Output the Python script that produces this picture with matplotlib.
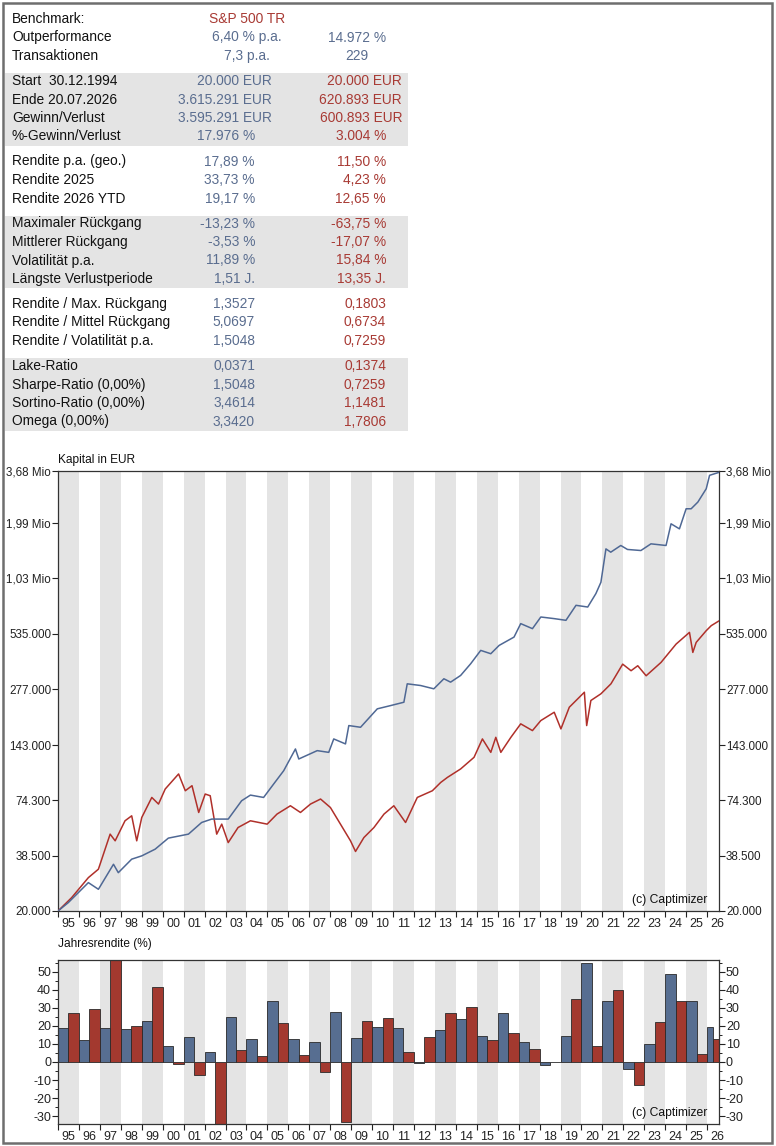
import matplotlib
matplotlib.use("Agg")
import matplotlib.pyplot as plt
from matplotlib.patches import Rectangle
from matplotlib.ticker import FixedLocator, NullLocator, MultipleLocator
import numpy as np

# ---------------- data ----------------
table_labels = ["Benchmark:", "Outperformance", "Transaktionen",
                "Start  30.12.1994", "Ende 20.07.2026", "Gewinn/Verlust", "%-Gewinn/Verlust",
                "Rendite p.a. (geo.)", "Rendite 2025", "Rendite 2026 YTD",
                "Maximaler Rückgang", "Mittlerer Rückgang", "Volatilität p.a.", "Längste Verlustperiode",
                "Rendite / Max. Rückgang", "Rendite / Mittel Rückgang", "Rendite / Volatilität p.a.",
                "Lake-Ratio", "Sharpe-Ratio (0,00%)", "Sortino-Ratio (0,00%)", "Omega (0,00%)"]
strategy_vals = ["S&P 500 TR", "6,40 % p.a.", "7,3 p.a.",
                 "20.000 EUR", "3.615.291 EUR", "3.595.291 EUR", "17.976 %",
                 "17,89 %", "33,73 %", "19,17 %",
                 "-13,23 %", "-3,53 %", "11,89 %", "1,51 J.",
                 "1,3527", "5,0697", "1,5048",
                 "0,0371", "1,5048", "3,4614", "3,3420"]
benchmark_vals = ["", "14.972 %", "229",
                  "20.000 EUR", "620.893 EUR", "600.893 EUR", "3.004 %",
                  "11,50 %", "4,23 %", "12,65 %",
                  "-63,75 %", "-17,07 %", "15,84 %", "13,35 J.",
                  "0,1803", "0,6734", "0,7259",
                  "0,1374", "0,7259", "1,1481", "1,7806"]
group_sizes = [3, 4, 3, 4, 3, 4]

strat_t = [1995.00, 1995.49, 1995.97, 1996.45, 1996.93, 1997.65, 1997.88, 1998.52, 1999.00,
           1999.64, 2000.27, 2001.23, 2001.86, 2002.34, 2003.13, 2003.77, 2004.19, 2004.82,
           2005.30, 2005.78, 2006.34, 2006.50, 2007.38, 2007.93, 2008.17, 2008.73, 2008.89,
           2009.45, 2010.25, 2010.89, 2011.52, 2011.68, 2012.32, 2012.95, 2013.43, 2013.75,
           2014.23, 2014.71, 2015.19, 2015.67, 2016.07, 2016.78, 2017.10, 2017.66, 2018.06,
           2018.70, 2019.26, 2019.74, 2020.30, 2020.69, 2020.93, 2021.17, 2021.40, 2021.88,
           2022.20, 2022.84, 2023.32, 2024.04, 2024.28, 2024.68, 2025.00, 2025.24, 2025.56,
           2025.96, 2026.12, 2026.55]
strat_v = [20000, 22080, 24860, 28000, 25870, 34800, 31500, 36970, 38440,
           41620, 47440, 49740, 57100, 59450, 59450, 73880, 79000, 76830,
           90100, 105500, 136500, 121200, 133800, 131100, 153700, 144900, 180100,
           176500, 219600, 228300, 237500, 295400, 289500, 278400, 313600, 301300,
           326200, 374800, 439000, 422000, 465800, 514000, 602900, 568000, 652200,
           639700, 627000, 749000, 734000, 860600, 984000, 1462000, 1406000, 1522000,
           1452000, 1434000, 1552000, 1522000, 1968000, 1854000, 2352000, 2352000, 2546000,
           2982000, 3497000, 3615291]

bench_t = [1995.00, 1995.65, 1996.45, 1996.93, 1997.49, 1997.73, 1998.20, 1998.52, 1998.76,
           1999.00, 1999.48, 1999.80, 2000.12, 2000.76, 2001.08, 2001.40, 2001.72, 2002.03,
           2002.27, 2002.58, 2002.82, 2003.13, 2003.60, 2004.19, 2004.99, 2005.46, 2006.10,
           2006.58, 2007.06, 2007.54, 2008.01, 2008.49, 2008.97, 2009.21, 2009.61, 2010.09,
           2010.57, 2011.04, 2011.60, 2012.16, 2012.88, 2013.28, 2013.60, 2014.23, 2014.87,
           2015.27, 2015.67, 2015.91, 2016.15, 2016.63, 2017.10, 2017.66, 2018.06, 2018.70,
           2019.02, 2019.42, 2020.14, 2020.25, 2020.45, 2020.93, 2021.41, 2021.97, 2022.37,
           2022.69, 2023.09, 2023.80, 2024.52, 2025.16, 2025.32, 2025.48, 2025.96, 2026.20,
           2026.55]
bench_v = [20000, 23420, 29700, 32830, 49740, 45950, 58260, 61800, 45950,
           60580, 76830, 71040, 84900, 101500, 83180, 88300, 64300, 80000,
           78400, 49740, 56000, 45000, 53800, 58260, 56000, 63080, 69620,
           64300, 71040, 75400, 68200, 56000, 45950, 40500, 47770, 53800,
           63080, 69620, 57100, 76830, 83180, 91800, 97450, 107700, 123600,
           153700, 131100, 156700, 131100, 156700, 183800, 169700, 191100, 210900,
           173100, 223800, 267400, 180100, 242400, 262400, 295400, 373000, 345000,
           366000, 325000, 380600, 473000, 543500, 428600, 482600, 554600, 588600,
           620893]

years = list(range(1995, 2027))
strat_ret = [18.6, 12.2, 19.0, 18.1, 22.9, 8.9, 13.7, 5.5, 25.1, 12.9, 33.6, 12.9, 11.3, 27.7,
             13.3, 19.6, 19.0, -0.7, 17.5, 23.8, 14.4, 27.3, 10.9, -1.5, 14.2, 54.8, 33.9,
             -3.9, 9.8, 48.5, 33.73, 19.17]
bench_ret = [26.9, 29.3, 57.0, 19.7, 41.7, -1.1, -7.2, -36.0, 6.8, 3.3, 21.4, 3.9, -5.5, -33.2,
             22.5, 24.5, 5.7, 14.0, 27.1, 30.6, 12.4, 16.1, 7.4, 0.2, 34.7, 8.9, 40.0,
             -12.9, 22.3, 33.6, 4.23, 12.65]

cap_ticks = [20000, 38500, 74300, 143000, 277000, 535000, 1030000, 1990000, 3680000]
cap_labels = ["20.000", "38.500", "74.300", "143.000", "277.000", "535.000",
              "1,03 Mio", "1,99 Mio", "3,68 Mio"]
ret_ticks = [-30, -20, -10, 0, 10, 20, 30, 40, 50]

# ---------------- style ----------------
W, H = 776, 1146
plt.rcParams['font.family'] = ['Liberation Sans', 'DejaVu Sans']
plt.rcParams['axes.unicode_minus'] = False
BLUE_T = '#5a6d8f'
RED_T = '#a83a34'
BLUE_L = '#4f6894'
RED_L = '#b0302a'
BLUE_B = '#576e91'
RED_B = '#a3392f'
BAND = '#e4e4e4'
X0, X1 = 1995.0, 2026.57

fig = plt.figure(figsize=(W / 100, H / 100), dpi=100)


def fx(x):
    return x / W


def fy(y):
    return 1 - y / H


# outer frame
fig.patches.append(Rectangle((fx(3), fy(1143)), fx(769), (1140) / H, transform=fig.transFigure,
                             fill=False, edgecolor='#6e6e6e', lw=1.8))

# ---------------- table ----------------
row_y = []
y = 19.0
for g, n in enumerate(group_sizes):
    for k in range(n):
        row_y.append(y)
        y += 18.5
    y += 6.5
idx = 0
for g, n in enumerate(group_sizes):
    if g % 2 == 1:
        top = row_y[idx] - 8
        bot = row_y[idx + n - 1] + 9
        fig.patches.append(Rectangle((fx(5), fy(bot)), fx(403), (bot - top) / H,
                                     transform=fig.transFigure, facecolor=BAND, edgecolor='none', zorder=0))
    idx += n

fs_tab = 9.9
for i, lab in enumerate(table_labels):
    yy = fy(row_y[i])
    fig.text(fx(12), yy, lab, fontsize=fs_tab, va='center', ha='left', color='#111111')
    sv, bv = strategy_vals[i], benchmark_vals[i]
    if i < 3:
        c2 = RED_T if i == 0 else BLUE_T
        fig.text(fx(247), yy, sv, fontsize=fs_tab, va='center', ha='center', color=c2)
        if bv:
            fig.text(fx(357), yy, bv, fontsize=fs_tab, va='center', ha='center', color=BLUE_T)
    else:
        r2 = 272 if sv.endswith('EUR') else 255
        r3 = 402 if bv.endswith('EUR') else 386
        fig.text(fx(r2), yy, sv, fontsize=fs_tab, va='center', ha='right', color=BLUE_T)
        fig.text(fx(r3), yy, bv, fontsize=fs_tab, va='center', ha='right', color=RED_T)

# ---------------- main chart ----------------
ax = fig.add_axes([fx(58), fy(911), fx(719) - fx(58), (911 - 471) / H])
for i, yr in enumerate(years):
    if i % 2 == 0:
        ax.axvspan(yr, yr + 1, color=BAND, lw=0, zorder=0)
ax.plot(bench_t, bench_v, color=RED_L, lw=1.1, zorder=3)
ax.plot(strat_t, strat_v, color=BLUE_L, lw=1.1, zorder=3)
ax.set_yscale('log')
ax.set_ylim(20000, 3680000)
ax.set_xlim(X0, X1)
ax.yaxis.set_major_locator(FixedLocator(cap_ticks))
ax.yaxis.set_minor_locator(NullLocator())
ax.set_yticklabels(cap_labels)
ax.tick_params(axis='y', which='major', direction='out', length=4, width=0.8, labelsize=8.4,
               left=True, right=True, labelleft=True, labelright=True, pad=1, colors='#222222')


def year_axis(a, label_pad):
    a.xaxis.set_major_locator(FixedLocator([yr for yr in years] + [years[-1] + 1]))
    a.xaxis.set_minor_locator(FixedLocator([yr + 0.5 for yr in years]))
    a.xaxis.set_major_formatter(plt.NullFormatter())
    a.set_xticklabels([f"{yr % 100:02d}" for yr in years], minor=True)
    a.tick_params(axis='x', which='major', direction='out', length=4, width=0.8, colors='#222222')
    a.tick_params(axis='x', which='minor', length=0, labelsize=9, pad=label_pad, labelcolor='#222222')


year_axis(ax, 5)
for s in ax.spines.values():
    s.set_color('#333333')
    s.set_linewidth(0.9)
ax.text(0.0, 1.012, "Kapital in EUR", transform=ax.transAxes, fontsize=8.6, ha='left', va='bottom',
        color='#111111')
ax.text(2026.0, 0.012, "(c) Captimizer", transform=ax.get_xaxis_transform(), fontsize=8.7,
        ha='right', va='bottom', color='#111111')

# ---------------- bar chart ----------------
bx = fig.add_axes([fx(58), fy(1124), fx(719) - fx(58), (1124 - 960) / H])
for i, yr in enumerate(years):
    if i % 2 == 0:
        bx.axvspan(yr, yr + 1, color=BAND, lw=0, zorder=0)
widths = [min(1.0, X1 - yr) / 2 for yr in years]
bx.bar([yr for yr in years], strat_ret, width=widths, align='edge', color=BLUE_B,
       edgecolor='#2a2a2a', lw=0.6, zorder=2)
bx.bar([yr + w for yr, w in zip(years, widths)], bench_ret, width=widths, align='edge',
       color=RED_B, edgecolor='#2a2a2a', lw=0.6, zorder=2)
bx.set_xlim(X0, X1)
bx.set_ylim(-34.3, 56.4)
bx.yaxis.set_major_locator(FixedLocator(ret_ticks))
bx.yaxis.set_minor_locator(MultipleLocator(5))
bx.tick_params(axis='y', which='both', direction='out', left=True, right=True,
               labelleft=True, labelright=True, colors='#222222')
bx.tick_params(axis='y', which='major', length=4, width=0.8, labelsize=9, pad=1)
bx.tick_params(axis='y', which='minor', length=2.5, width=0.7)
year_axis(bx, 5)
for s in bx.spines.values():
    s.set_color('#333333')
    s.set_linewidth(0.9)
bx.text(0.0, 1.06, "Jahresrendite (%)", transform=bx.transAxes, fontsize=8.6, ha='left',
        va='bottom', color='#111111')
bx.text(2026.0, -31.5, "(c) Captimizer", fontsize=8.7, ha='right', va='bottom', color='#111111',
        zorder=5)

fig.savefig("out.png", dpi=100)
